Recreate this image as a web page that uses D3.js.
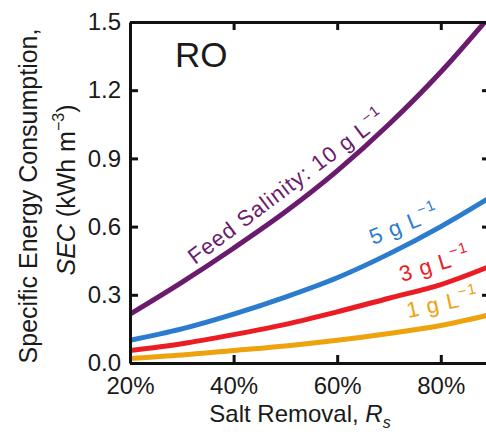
<!DOCTYPE html>
<html>
<head>
<meta charset="utf-8">
<title>RO specific energy consumption</title>
<script src="https://d3js.org/d3.v7.min.js"></script>
<style>
  body { margin: 0; background: #fff; }
  text { font-family: "Liberation Sans", Arial, sans-serif; fill: #1a1a1a; }
</style>
</head>
<body>
<div id="chart"></div>
<script>
// salt removal (fraction) and SEC (kWh m^-3)
let removal = [0.2, 0.3, 0.4, 0.5, 0.6, 0.7, 0.8, 0.9];
let sec10 = [0.215, 0.355, 0.505, 0.665, 0.845, 1.05, 1.28, 1.54];
let sec5  = [0.10, 0.15, 0.215, 0.29, 0.375, 0.48, 0.60, 0.735];
let sec3  = [0.055, 0.085, 0.125, 0.17, 0.225, 0.285, 0.345, 0.43];
let sec1  = [0.02, 0.035, 0.055, 0.075, 0.10, 0.13, 0.165, 0.215];

let xTicks = [0.2, 0.4, 0.6, 0.8];
let yTicks = [0, 0.3, 0.6, 0.9, 1.2, 1.5];

let series = [
  {name: "10", values: sec10, color: "#6a1b6e", label: "Feed Salinity: 10 g L", at: [0.3255, 0.431], angle: -37},
  {name: "5",  values: sec5,  color: "#2b7bcf", label: "5 g L", at: [0.669, 0.519], angle: -22},
  {name: "3",  values: sec3,  color: "#ec1c24", label: "3 g L", at: [0.725, 0.356], angle: -17},
  {name: "1",  values: sec1,  color: "#eea20e", label: "1 g L", at: [0.737, 0.198], angle: -12}
];

let margin = {top: 22, right: -4, bottom: 69, left: 130};
let W = 486, H = 432;
let w = W - margin.left - margin.right;
let h = H - margin.top - margin.bottom;

let svg = d3.select("#chart").append("svg")
    .attr("width", W).attr("height", H);

let g = svg.append("g")
    .attr("transform", "translate(" + margin.left + "," + margin.top + ")");

let x = d3.scaleLinear().domain([0.2, 0.895]).range([0, w]);
let y = d3.scaleLinear().domain([0, 1.5]).range([h, 0]);

g.append("clipPath").attr("id", "clip")
  .append("rect").attr("width", w).attr("height", h);

let line = d3.line()
    .x((d, i) => x(removal[i]))
    .y(d => y(d))
    .curve(d3.curveMonotoneX);

g.append("g").attr("clip-path", "url(#clip)")
  .selectAll("path").data(series).enter().append("path")
    .attr("d", d => line(d.values))
    .attr("fill", "none")
    .attr("stroke", d => d.color)
    .attr("stroke-width", 5);

// axes: box with inward ticks
function styleAxis(sel) {
  sel.selectAll("path, line").attr("stroke", "#111").attr("stroke-width", 3);
  sel.selectAll("text").attr("font-size", "24px").attr("fill", "#1a1a1a")
     .attr("font-family", "'Liberation Sans', Arial, sans-serif");
}

g.append("g")
  .attr("transform", "translate(0," + h + ")")
  .call(d3.axisBottom(x).tickValues(xTicks).tickSizeInner(-8).tickSizeOuter(0)
        .tickPadding(14).tickFormat(d3.format(".0%")))
  .call(styleAxis);

g.append("g")
  .call(d3.axisLeft(y).tickValues(yTicks).tickSizeInner(-8).tickSizeOuter(0)
        .tickPadding(9).tickFormat(d3.format(".1f")))
  .call(styleAxis);

g.append("g")
  .call(d3.axisTop(x).tickValues(xTicks.slice(1)).tickSizeInner(-8).tickSizeOuter(0)
        .tickFormat(""))
  .call(styleAxis);

g.append("g")
  .attr("transform", "translate(" + w + ",0)")
  .call(d3.axisRight(y).tickValues(yTicks.slice(1, -1)).tickSizeInner(-8).tickSizeOuter(0)
        .tickFormat(""))
  .call(styleAxis);

// curve labels
series.forEach(function(s) {
  let t = g.append("text")
    .attr("transform", "translate(" + x(s.at[0]) + "," + y(s.at[1]) + ") rotate(" + s.angle + ")")
    .attr("font-size", "22px")
    .attr("letter-spacing", "1px")
    .style("fill", s.color);
  t.append("tspan").text(s.label);
  t.append("tspan").attr("font-size", "15px").attr("dy", "-10").text("\u22121");
});

// RO tag
g.append("text")
  .attr("x", x(0.287)).attr("y", y(1.3))
  .attr("font-size", "35px")
  .text("RO");

// x title
let xt = svg.append("text")
  .attr("x", 300).attr("y", 422)
  .attr("text-anchor", "middle")
  .attr("font-size", "24px");
xt.append("tspan").text("Salt Removal, ");
xt.append("tspan").attr("font-style", "italic").text("R");
xt.append("tspan").attr("font-style", "italic").attr("font-size", "16px").attr("dy", "6").text("s");

// y title, two lines
svg.append("text")
  .attr("transform", "translate(37,196) rotate(-90)")
  .attr("text-anchor", "middle")
  .attr("font-size", "25px")
  .text("Specific Energy Consumption,");

let yt = svg.append("text")
  .attr("transform", "translate(75,190) rotate(-90)")
  .attr("text-anchor", "middle")
  .attr("font-size", "25px");
yt.append("tspan").attr("font-style", "italic").text("SEC");
yt.append("tspan").text(" (kWh m");
yt.append("tspan").attr("font-size", "16px").attr("dy", "-11").text("\u22123");
yt.append("tspan").attr("dy", "11").text(")");
</script>
</body>
</html>
